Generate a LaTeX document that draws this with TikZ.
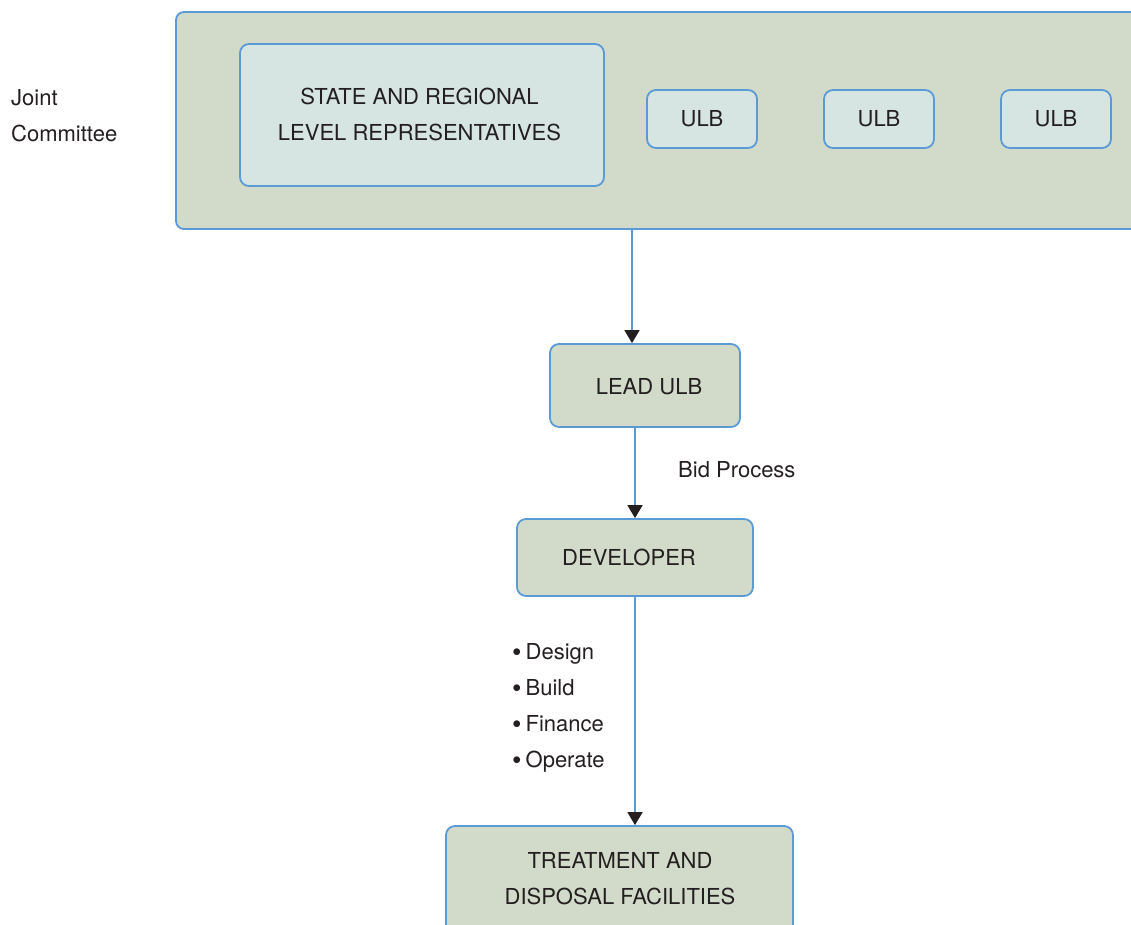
\documentclass[tikz,border=0pt]{standalone}
\usepackage{fontspec}
\setmainfont{TeX Gyre Heros}
\usetikzlibrary{arrows.meta}
\definecolor{boxgreen}{HTML}{D2DBC9}
\definecolor{boxlight}{HTML}{D6E4E2}
\definecolor{edgeblue}{HTML}{5B9BD5}
\definecolor{txt}{HTML}{231F20}
\newcommand{\bul}{\raisebox{-2.5pt}{\fontsize{27}{27}\selectfont\textbullet}\hspace{4pt}}
\tikzset{
  outer/.style={draw=edgeblue, line width=1.8pt, fill=boxgreen, rounded corners=8pt, inner sep=0pt},
  inner/.style={draw=edgeblue, line width=1.8pt, fill=boxlight, rounded corners=9pt, inner sep=0pt},
  flow/.style={draw=edgeblue, line width=1.8pt, fill=boxgreen, rounded corners=9pt, inner sep=0pt},
  lbl/.style={font=\fontsize{22}{36}\selectfont, text=txt, align=center, inner sep=0pt},
  arr/.style={draw=edgeblue, line width=1.8pt, -{Triangle[color=txt,width=15pt,length=13pt]}},
}
\begin{document}
\begin{tikzpicture}[x=1pt,y=-1pt]
\useasboundingbox (0,0) rectangle (1131,924);
\clip (0,0) rectangle (1131,924);
% big joint committee box
\node[outer, minimum width=1010pt, minimum height=217pt] (big) at (681,120.5) {};
\node[inner, minimum width=364pt, minimum height=142pt] (state) at (422,115) {};
\node[lbl] (statet) at (419.5,114.5) {STATE AND REGIONAL\\LEVEL REPRESENTATIVES};
\node[inner, minimum width=110pt, minimum height=58pt, lbl] (ulb1) at (702,119) {ULB};
\node[inner, minimum width=110pt, minimum height=58pt, lbl] (ulb2) at (879,119) {ULB};
\node[inner, minimum width=110pt, minimum height=58pt, lbl] (ulb3) at (1056,119) {ULB};
\node[lbl, align=left, anchor=west] (joint) at (11,115.5) {Joint\\Committee};
% flow boxes
\node[flow, minimum width=190pt, minimum height=83pt] (lead) at (645,385.5) {};
\node[lbl] (leadt) at (649,386.5) {LEAD ULB};
\node[flow, minimum width=236pt, minimum height=77pt] (dev) at (635,557.5) {};
\node[lbl] (devt) at (629,557.5) {DEVELOPER};
\node[flow, minimum width=347pt, minimum height=140pt] (tdf) at (619.5,896) {};
\node[lbl] (tdft) at (620,879) {TREATMENT AND\\DISPOSAL FACILITIES};
% connectors
\coordinate (c1) at (632,229);
\draw[arr] (c1) -- (c1 |- lead.north);
\coordinate (c2) at (635,427);
\draw[arr] (c2) -- (c2 |- dev.north);
\coordinate (c3) at (635,596);
\draw[arr] (c3) -- (c3 |- tdf.north);
% labels
\node[lbl, anchor=west] (bid) at (678,469.5) {Bid Process};
\node[lbl, align=left, anchor=north west] (list) at (512,643) {\bul Design\\\bul Build\\\bul Finance\\\bul Operate};
\end{tikzpicture}
\end{document}
